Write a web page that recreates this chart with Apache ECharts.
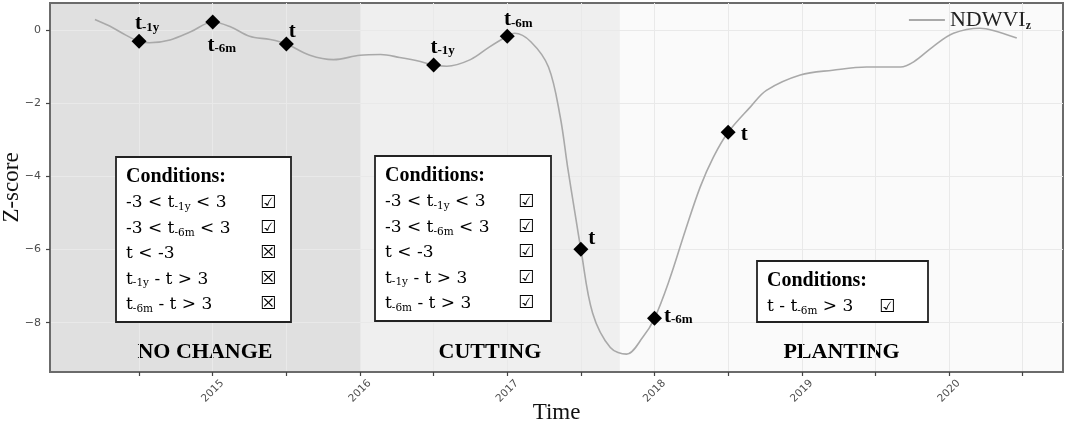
<!DOCTYPE html>
<html><head><meta charset="utf-8">
<script src="https://cdn.jsdelivr.net/npm/echarts@6/dist/echarts.min.js"></script>
<style>html,body{margin:0;padding:0;background:#fff}#c{width:1065px;height:426px}</style>
</head><body><div id="c"></div>
<script>
// ---- data ----
const curveX = [2014.20, 2014.30, 2014.41, 2014.50, 2014.57, 2014.71, 2014.85, 2015.00, 2015.12, 2015.25, 2015.39, 2015.50,
  2015.66, 2015.82, 2016.00, 2016.14, 2016.27, 2016.41, 2016.50, 2016.59, 2016.75, 2016.88, 2017.00, 2017.05, 2017.16,
  2017.28, 2017.36, 2017.41, 2017.46, 2017.50, 2017.58, 2017.70, 2017.81, 2017.92, 2018.00, 2018.10, 2018.21, 2018.31,
  2018.40, 2018.50, 2018.65, 2018.76, 2018.99, 2019.21, 2019.44, 2019.67, 2019.76, 2019.89, 2020.03, 2020.21, 2020.30, 2020.46];
const curveY = [0.30, 0.12, -0.13, -0.30, -0.34, -0.26, -0.04, 0.23, 0.10, -0.16, -0.25, -0.37,
  -0.68, -0.80, -0.68, -0.66, -0.74, -0.85, -0.95, -0.98, -0.80, -0.45, -0.16, -0.08, -0.31,
  -1.00, -2.37, -3.74, -5.00, -5.99, -7.74, -8.68, -8.86, -8.40, -7.88, -6.84, -5.47, -4.29,
  -3.47, -2.79, -2.10, -1.64, -1.22, -1.09, -1.00, -1.00, -0.86, -0.45, -0.08, 0.06, 0.00, -0.21];
const markerX = [2014.5, 2015.0, 2015.5, 2016.5, 2017.0, 2017.5, 2018.0, 2018.5];
const markerY = [-0.30, 0.23, -0.37, -0.95, -0.16, -5.99, -7.88, -2.79];
const markerSub = ['-1y', '-6m', '', '-1y', '-6m', '', '-6m', ''];
const phaseNames = ['NO CHANGE', 'CUTTING', 'PLANTING'];
const phaseStart = [2013.895, 2016.0, 2017.765];
const phaseEnd = [2016.0, 2017.765, 2020.774];
const xMin = 2013.895, xMax = 2020.774;
const yMin = -9.35, yMax = 0.75;
const xLabelValues = [2015, 2016, 2017, 2018, 2019, 2020];
const xTickValues = [2014.5, 2015, 2015.5, 2016, 2016.5, 2017, 2017.5, 2018, 2018.5, 2019, 2019.5, 2020, 2020.5];
const yTickValues = [-8, -6, -4, -2, 0];
const seriesName = 'NDWVI';
const box1Lines = ['-3 < t{s|-1y} < 3', '-3 < t{s|-6m} < 3', 't < -3', 't{s|-1y} - t > 3', 't{s|-6m} - t > 3'];
const box1Checks = [true, true, false, false, false];
const box2Lines = ['-3 < t{s|-1y} < 3', '-3 < t{s|-6m} < 3', 't < -3', 't{s|-1y} - t > 3', 't{s|-6m} - t > 3'];
const box2Checks = [true, true, true, true, true];
const box3Lines = ['t - t{s|-6m} > 3'];
const box3Checks = [true];

// ---- styling ----
const phaseColors = ['#e0e0e0', '#efefef', '#fafafa'];
const labelPlace = [
  {position: 'top', offset: [8, 3]},
  {position: 'bottom', offset: [9, 3]},
  {position: 'top', offset: [6, 8]},
  {position: 'top', offset: [9, 3]},
  {position: 'top', offset: [11, 4]},
  {position: 'right', offset: [-3, -11]},
  {position: 'right', offset: [-1, -2]},
  {position: 'right', offset: [2, 2]}
];
const serif = '"Liberation Serif", "DejaVu Serif", serif';
const condFont = '"DejaVu Serif", serif';

function buildBox(x, y, w, h, lines, checks, checkX) {
  const Z = 50;
  const children = [
    {type: 'rect', z: Z, x: x, y: y, shape: {x: 0, y: 0, width: w, height: h},
     style: {fill: '#fff', stroke: '#222', lineWidth: 1.8}},
    {type: 'text', z: Z + 1, x: x + 10, y: y + 20,
     style: {text: 'Conditions:', font: 'bold 20px ' + serif, fill: '#000', verticalAlign: 'middle'}}
  ];
  lines.forEach((ln, i) => {
    const cy = y + 46 + i * 25.4;
    children.push({type: 'text', z: Z + 1, x: x + 10, y: cy,
      style: {text: '{n|' + ln.replace(/\{s\|([^}]*)\}/g, '}{s|$1}{n|') + '}', verticalAlign: 'middle', fill: '#000',
        rich: {n: {fontFamily: condFont, fontSize: 17, lineHeight: 20, fill: '#000'},
               s: {fontFamily: condFont, fontSize: 10.5, lineHeight: 6, verticalAlign: 'bottom', fill: '#000'}}}});
    children.push({type: 'text', z: Z + 1, x: x + checkX, y: cy,
      style: {text: checks[i] ? '\u2611' : '\u2612', font: 'bold 18px "DejaVu Sans", sans-serif', fill: '#000',
        align: 'center', verticalAlign: 'middle'}});
  });
  return children;
}

const chart = echarts.init(document.getElementById('c'), null, {renderer: 'canvas'});
const lineData = curveX.map((x, i) => [x, curveY[i]]);
const markerData = markerX.map((x, i) => ({
  value: [x, markerY[i]],
  label: Object.assign({show: true, distance: 3,
    formatter: markerSub[i] ? '{b|t}{s|' + markerSub[i] + '}' : '{b|t}'}, labelPlace[i])
}));

chart.setOption({
  animation: false,
  backgroundColor: '#fff',
  grid: {left: 50, right: 2, top: 3, bottom: 54, show: true, borderColor: '#6b6b6b', borderWidth: 2,
    backgroundColor: 'transparent', containLabel: false, outerBoundsMode: 'none'},
  legend: {
    right: 29, top: 4, itemWidth: 36, itemHeight: 2, itemGap: 8,
    data: [{name: seriesName, icon: 'rect'}],
    formatter: '{a|NDWVI}{z|z}',
    textStyle: {rich: {a: {fontFamily: serif, fontSize: 22, lineHeight: 24, color: '#222'},
                       z: {fontFamily: serif, fontSize: 12, fontWeight: 'bold', lineHeight: 8, verticalAlign: 'bottom', color: '#222'}}}
  },
  xAxis: {
    type: 'value', min: xMin, max: xMax,
    name: 'Time', nameLocation: 'middle', nameGap: 29, nameMoveOverlap: false,
    nameTextStyle: {fontFamily: serif, fontSize: 23, color: '#111'},
    axisLine: {show: true, onZero: false, lineStyle: {color: '#6b6b6b', width: 2}},
    axisTick: {show: true, length: 4, customValues: xTickValues, lineStyle: {color: '#444', width: 1.2}},
    axisLabel: {customValues: xLabelValues, rotate: 45, align: 'center', verticalAlign: 'middle', margin: 19,
      fontSize: 10.5, color: '#4d4d4d', fontFamily: '"DejaVu Sans", sans-serif',
      formatter: v => String(Math.round(v))},
    splitLine: {show: true, lineStyle: {color: '#e9e9e9', width: 1}}
  },
  yAxis: {
    type: 'value', min: yMin, max: yMax,
    name: 'Z-score', nameLocation: 'middle', nameGap: 27, nameRotate: 90, nameMoveOverlap: false,
    nameTextStyle: {fontFamily: serif, fontSize: 23, color: '#111'},
    axisLine: {show: true, onZero: false, lineStyle: {color: '#6b6b6b', width: 2}},
    axisTick: {show: true, length: 4, customValues: yTickValues, lineStyle: {color: '#444', width: 1.2}},
    axisLabel: {customValues: yTickValues, margin: 9, fontSize: 11, color: '#4d4d4d', fontFamily: '"DejaVu Sans", sans-serif',
      formatter: v => String(Math.round(v)).replace('-', '\u2212')},
    splitLine: {show: true, lineStyle: {color: '#e9e9e9', width: 1}}
  },
  series: [
    {
      type: 'line', name: 'phases', data: [], z: -5, silent: true,
      markArea: {
        silent: true, z: -5,
        label: {position: 'insideBottom', distance: 9, fontFamily: serif, fontWeight: 'bold', fontSize: 22, color: '#000'},
        data: phaseNames.map((n, i) => [
          {name: n, xAxis: phaseStart[i], yAxis: yMin, itemStyle: {color: phaseColors[i]}},
          {xAxis: phaseEnd[i], yAxis: yMax}
        ])
      }
    },
    {
      type: 'line', name: seriesName, data: lineData, smooth: 0.35, showSymbol: false, symbol: 'none',
      lineStyle: {color: '#a9a9a9', width: 1.6}, itemStyle: {color: '#a9a9a9'}, z: 3
    },
    {
      type: 'scatter', name: 'markers', data: markerData, symbol: 'diamond', symbolSize: 15, z: 4,
      itemStyle: {color: '#000', opacity: 1},
      label: {rich: {b: {fontFamily: serif, fontWeight: 'bold', fontSize: 21, lineHeight: 20, color: '#000'},
                     s: {fontFamily: serif, fontWeight: 'bold', fontSize: 13, lineHeight: 8, verticalAlign: 'bottom', color: '#000'}}}
    }
  ],
  graphic: [].concat(
    buildBox(116, 157, 175, 165, box1Lines, box1Checks, 152),
    buildBox(375, 156, 176, 165, box2Lines, box2Checks, 151),
    buildBox(757, 261, 171, 61, box3Lines, box3Checks, 130)
  )
});
</script></body></html>
